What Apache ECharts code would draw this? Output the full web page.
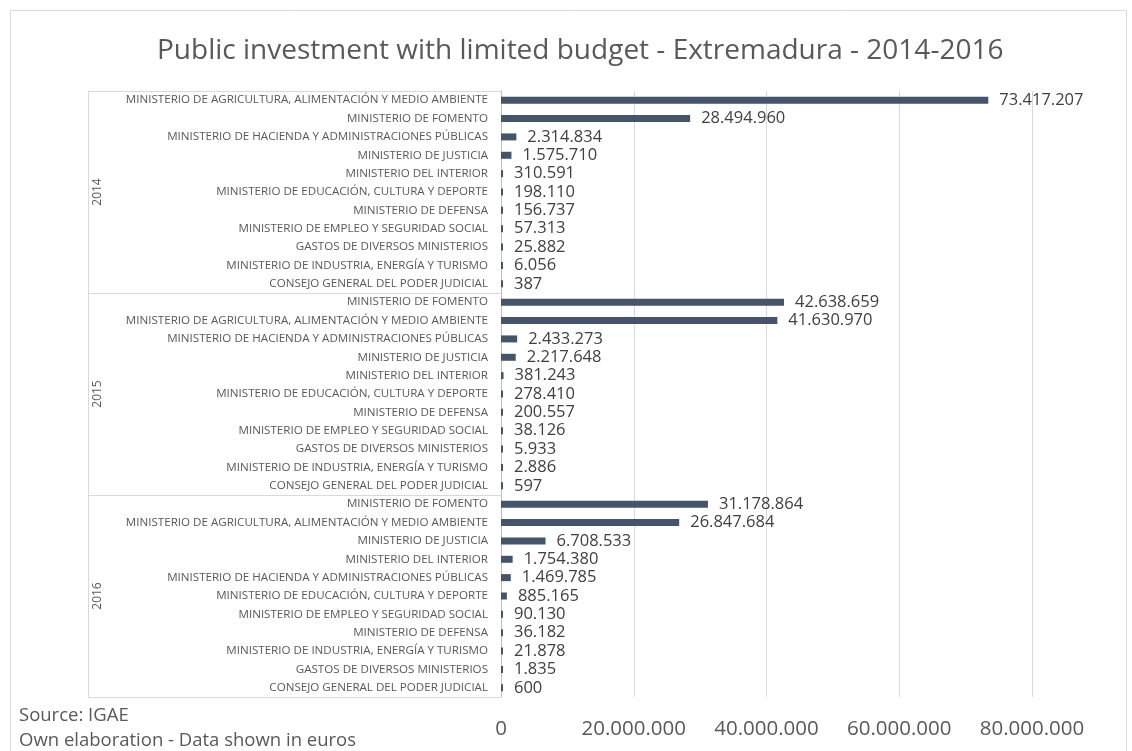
<!DOCTYPE html>
<html>
<head>
<meta charset="utf-8">
<script src="https://cdn.jsdelivr.net/npm/echarts@6/dist/echarts.min.js"></script>
<style>
  html, body { margin: 0; padding: 0; background: #fff; }
  #chart { width: 1132px; height: 751px; }
</style>
</head>
<body>
<div id="chart"></div>
<script>
  // datos por año (orden como en el gráfico original)
  const years = ['2014', '2015', '2016']

  const names2014 = [
    'MINISTERIO DE AGRICULTURA, ALIMENTACIÓN Y MEDIO AMBIENTE',
    'MINISTERIO DE FOMENTO',
    'MINISTERIO DE HACIENDA Y ADMINISTRACIONES PÚBLICAS',
    'MINISTERIO DE JUSTICIA',
    'MINISTERIO DEL INTERIOR',
    'MINISTERIO DE EDUCACIÓN, CULTURA Y DEPORTE',
    'MINISTERIO DE DEFENSA',
    'MINISTERIO DE EMPLEO Y SEGURIDAD SOCIAL',
    'GASTOS DE DIVERSOS MINISTERIOS',
    'MINISTERIO DE INDUSTRIA, ENERGÍA Y TURISMO',
    'CONSEJO GENERAL DEL PODER JUDICIAL'
  ]
  const values2014 = [73417207, 28494960, 2314834, 1575710, 310591, 198110, 156737, 57313, 25882, 6056, 387]

  const names2015 = [
    'MINISTERIO DE FOMENTO',
    'MINISTERIO DE AGRICULTURA, ALIMENTACIÓN Y MEDIO AMBIENTE',
    'MINISTERIO DE HACIENDA Y ADMINISTRACIONES PÚBLICAS',
    'MINISTERIO DE JUSTICIA',
    'MINISTERIO DEL INTERIOR',
    'MINISTERIO DE EDUCACIÓN, CULTURA Y DEPORTE',
    'MINISTERIO DE DEFENSA',
    'MINISTERIO DE EMPLEO Y SEGURIDAD SOCIAL',
    'GASTOS DE DIVERSOS MINISTERIOS',
    'MINISTERIO DE INDUSTRIA, ENERGÍA Y TURISMO',
    'CONSEJO GENERAL DEL PODER JUDICIAL'
  ]
  const values2015 = [42638659, 41630970, 2433273, 2217648, 381243, 278410, 200557, 38126, 5933, 2886, 597]

  const names2016 = [
    'MINISTERIO DE FOMENTO',
    'MINISTERIO DE AGRICULTURA, ALIMENTACIÓN Y MEDIO AMBIENTE',
    'MINISTERIO DE JUSTICIA',
    'MINISTERIO DEL INTERIOR',
    'MINISTERIO DE HACIENDA Y ADMINISTRACIONES PÚBLICAS',
    'MINISTERIO DE EDUCACIÓN, CULTURA Y DEPORTE',
    'MINISTERIO DE EMPLEO Y SEGURIDAD SOCIAL',
    'MINISTERIO DE DEFENSA',
    'MINISTERIO DE INDUSTRIA, ENERGÍA Y TURISMO',
    'GASTOS DE DIVERSOS MINISTERIOS',
    'CONSEJO GENERAL DEL PODER JUDICIAL'
  ]
  const values2016 = [31178864, 26847684, 6708533, 1754380, 1469785, 885165, 90130, 36182, 21878, 1835, 600]

  const xTicks = [0, 20000000, 40000000, 60000000, 80000000]

  // claves únicas año|nombre para el eje de categorías
  const groups = [[names2014, values2014], [names2015, values2015], [names2016, values2016]]
  const categories = []
  const values = []
  groups.forEach(([names, vals], i) => {
    names.forEach((n, j) => {
      categories.push(years[i] + '|' + n)
      values.push(vals[j])
    })
  })

  const fmt = (v) => String(v).replace(/\B(?=(\d{3})+(?!\d))/g, '.')

  const font = '"Open Sans", "Noto Sans", sans-serif'
  const mChart = echarts.init(document.getElementById('chart'))

  const options = {
    backgroundColor: '#fff',
    animation: false,
    title: {
      text: 'Public investment with limited budget - Extremadura - 2014-2016',
      left: 152,
      top: 32,
      textStyle: { fontFamily: font, fontSize: 28, fontWeight: 'normal', color: '#595959' }
    },
    grid: { left: 501, right: 100, top: 91, bottom: 54, containLabel: false },
    xAxis: {
      type: 'value',
      min: xTicks[0],
      max: xTicks[xTicks.length - 1],
      interval: 20000000,
      axisLine: { show: false },
      axisTick: { show: false },
      splitLine: { lineStyle: { color: '#D9D9D9', width: 1 } },
      axisLabel: {
        margin: 22,
        fontFamily: font,
        fontSize: 20.5,
        color: '#595959',
        formatter: (v) => fmt(v)
      }
    },
    yAxis: [
      {
        type: 'category',
        inverse: true,
        data: categories,
        axisLine: { lineStyle: { color: '#BFBFBF' } },
        axisTick: { show: false },
        axisLabel: {
          margin: 13,
          interval: 0,
          fontFamily: font,
          fontSize: 11.6,
          color: '#595959',
          formatter: (v) => v.split('|')[1]
        }
      },
      {
        // eje de años: línea izquierda + separadores
        type: 'category',
        inverse: true,
        position: 'left',
        offset: 413,
        data: years,
        axisLine: { lineStyle: { color: '#D9D9D9' } },
        axisTick: { show: true, inside: true, length: 413, lineStyle: { color: '#D9D9D9' } },
        axisLabel: {
          inside: true,
          rotate: 90,
          margin: 4,
          fontFamily: font,
          fontSize: 12,
          color: '#595959'
        }
      }
    ],
    graphic: [
      {
        type: 'rect',
        left: 8,
        top: 8,
        shape: { width: 1116, height: 744 },
        style: { fill: 'none', stroke: '#D9D9D9', lineWidth: 1 },
        silent: true
      },
      {
        type: 'text',
        left: 19,
        top: 706,
        style: { text: 'Source: IGAE', fontFamily: font, fontSize: 18.5, fill: '#595959' }
      },
      {
        type: 'text',
        left: 19,
        top: 731,
        style: { text: 'Own elaboration - Data shown in euros', fontFamily: font, fontSize: 18.5, fill: '#595959' }
      }
    ],
    series: [
      {
        type: 'bar',
        yAxisIndex: 0,
        data: values,
        barWidth: 7,
        barMinHeight: 2,
        itemStyle: { color: '#44546A' },
        label: {
          show: true,
          position: 'right',
          distance: 11,
          fontFamily: font,
          fontSize: 16.5,
          color: '#404040',
          formatter: (p) => fmt(p.value)
        }
      }
    ]
  }

  mChart.setOption(options)
</script>
</body>
</html>
